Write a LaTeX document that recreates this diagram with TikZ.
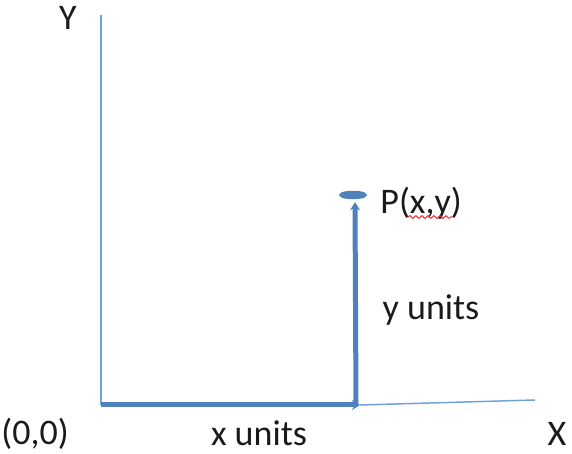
\documentclass[tikz,border=0pt]{standalone}
\usepackage{fontspec}
\setmainfont{Carlito}
\usetikzlibrary{arrows.meta,positioning,shapes.geometric,decorations.pathmorphing}
\definecolor{ink}{HTML}{1A1A1A}
\definecolor{axisblue}{HTML}{6FA3DC}
\definecolor{vecblue}{HTML}{4F81BD}
\definecolor{squig}{HTML}{F03030}
\tikzset{
  axis/.style={draw=axisblue,line width=.75pt},
  vec/.style={-{Stealth[length=4pt,width=5pt]},draw=vecblue,line width=2.5pt},
  lbl/.style={font=\fontsize{18}{20}\selectfont,text=ink,inner sep=0pt},
}
\begin{document}
\begin{tikzpicture}[x=.5pt,y=.5pt]
  \useasboundingbox (0,0) rectangle (572,454);
  % axes
  \coordinate (o) at (101,49);
  \coordinate (ytop) at (101,439);
  \coordinate (px) at (360,49);
  \coordinate (xend) at (535,54);
  \draw[axis] (o) -- (ytop);
  \draw[axis] (px) -- (xend);
  % the point and its two legs
  \node[ellipse,draw=vecblue,fill=vecblue!60,line width=2.2pt,minimum width=11pt,minimum height=2pt,inner sep=0pt] (dot) at (353,259) {};
  \draw[vec] (o) -- (px);
  \draw[vec] ([xshift=-2pt]px) -- ([xshift=1pt,yshift=-1.5pt]dot.south);
  % labels
  \node[lbl] (ylab) at (68,436) {Y};
  \node[lbl] (xlab) at (557,20) {X};
  \node[lbl] (olab) at (35,20) {(0,0)};
  \node[lbl] (xunits) at (259,21) {x units};
  \node[lbl] (yunits) at (431,144) {y units};
  \node[lbl,anchor=west] (plab) at (380,251) {P(x,y)};
  \draw[squig,line width=.5pt,decorate,decoration={snake,amplitude=.7pt,segment length=3pt}] (408,237) -- (453,237);
\end{tikzpicture}
\end{document}
